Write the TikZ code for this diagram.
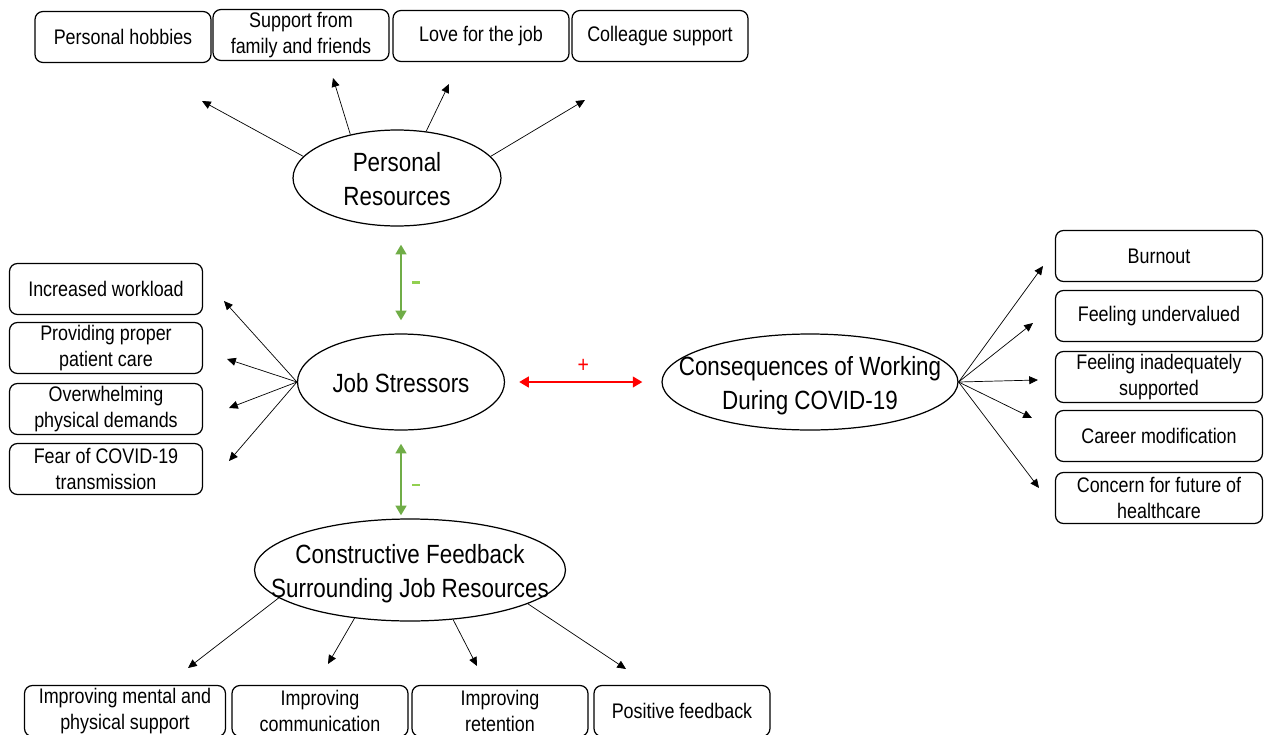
\documentclass[tikz,border=0pt]{standalone}
\usepackage{fontspec}
\setmainfont[FakeStretch=0.85]{Liberation Sans}
\usepackage{tikz}
\usetikzlibrary{arrows.meta,shapes.geometric,positioning}

\definecolor{posgreen}{HTML}{70AD47}
\definecolor{signgreen}{HTML}{92D050}
\newcommand{\ovaltext}[1]{\makebox[0pt]{\smash{\raisebox{-5.5pt}{\begin{tabular}{@{}c@{}}#1\end{tabular}}}}}

\begin{document}
\begin{tikzpicture}[x=0.02cm, y=-0.02cm,
		box/.style={draw, rounded corners=4.5pt, line width=0.7pt, align=center,
			inner ysep=1pt, minimum height=1.02cm,
			font=\fontsize{12}{14.7}\selectfont},
		oval/.style={draw, ellipse, line width=0.7pt, inner sep=0pt,
			font=\fontsize{15}{19.3}\selectfont},
		thinarrow/.style={-{Triangle[length=5pt,width=4.5pt]}, line width=0.4pt},
		greenarrow/.style={{Triangle[length=5.5pt,width=6pt]}-{Triangle[length=5.5pt,width=6pt]}, line width=1.7pt, posgreen},
		redarrow/.style={{Triangle[length=5.5pt,width=6pt]}-{Triangle[length=5.5pt,width=6pt]}, line width=1.7pt, red},
		minus/.style={inner sep=0pt, right=5.5pt, signgreen}]
			\useasboundingbox (0,0) rectangle (1265,734);
			
			% the four themes
			\node[oval, minimum width=4.16cm, minimum height=1.92cm] (resources) at (397, 178) {\ovaltext{Personal\\Resources}};
			\node[oval, minimum width=4.14cm, minimum height=1.92cm] (stressors) at (401, 382) {\ovaltext{Job Stressors}};
			\node[oval, minimum width=5.92cm, minimum height=1.92cm] (conseq) at (810, 382) {\ovaltext{Consequences of Working\\During COVID-19}};
			\node[oval, minimum width=6.22cm, minimum height=2.04cm] (feedback) at (410, 570) {\ovaltext{Constructive Feedback\\Surrounding Job Resources}};
			
			% personal resources
			\node[box, minimum width=3.52cm] (hobbies) at (123, 37) {Personal hobbies};
			\node[box, minimum width=3.52cm] (family) at (301, 35) {Support from\\family and friends};
			\node[box, minimum width=3.52cm] (love) at (481, 36) {Love for the job};
			\node[box, minimum width=3.52cm] (colleague) at (660, 36) {Colleague support};
			
			% job stressors
			\node[box, minimum width=3.86cm] (workload) at (106, 289) {Increased workload};
			\node[box, minimum width=3.86cm] (care) at (106, 348) {Providing proper\\patient care};
			\node[box, minimum width=3.86cm] (demands) at (106, 409) {Overwhelming\\physical demands};
			\node[box, minimum width=3.86cm] (fear) at (106, 469) {Fear of COVID-19\\transmission};
			
			% consequences
			\node[box, minimum width=4.14cm] (burnout) at (1159, 256) {Burnout};
			\node[box, minimum width=4.14cm] (undervalued) at (1159, 316) {Feeling undervalued};
			\node[box, minimum width=4.14cm] (inadequate) at (1159, 377) {Feeling inadequately\\supported};
			\node[box, minimum width=4.14cm] (career) at (1159, 436) {Career modification};
			\node[box, minimum width=4.14cm] (future) at (1159, 498) {Concern for future of\\healthcare};
			
			% job resources
			\node[box, minimum width=4.02cm] (support) at (125, 711) {Improving mental and\\physical support};
			\node[box, minimum width=3.52cm] (communication) at (320, 711) {Improving\\communication};
			\node[box, minimum width=3.52cm] (retention) at (500, 711) {Improving\\retention};
			\node[box, minimum width=3.52cm] (positive) at (682, 711) {Positive feedback};
			
			% loose arrow ends
			\coordinate (t1) at (202, 101);
			\coordinate (t2) at (333, 78);
			\coordinate (t3) at (449, 84);
			\coordinate (t4) at (585, 100);
			\coordinate (l1) at (224, 301);
			\coordinate (l2) at (227, 359);
			\coordinate (l3) at (229, 408);
			\coordinate (l4) at (229, 461);
			\coordinate (r1) at (1043, 266);
			\coordinate (r2) at (1033, 323);
			\coordinate (r3) at (1038, 380);
			\coordinate (r4) at (1032, 418);
			\coordinate (r5) at (1039, 488);
			\coordinate (b1) at (188, 668);
			\coordinate (b2) at (328, 664);
			\coordinate (b3) at (477, 666);
			\coordinate (b4) at (626, 669);
			
			\draw [thinarrow] (resources.167) to (t1);
			\draw [thinarrow] (resources.137) to (t2);
			\draw [thinarrow] (resources.58) to (t3);
			\draw [thinarrow] (resources.13) to (t4);
			
			\draw [thinarrow] (stressors.west) to (l1);
			\draw [thinarrow] (stressors.west) to (l2);
			\draw [thinarrow] (stressors.west) to (l3);
			\draw [thinarrow] (stressors.west) to (l4);
			
			\draw [thinarrow] (conseq.east) to (r1);
			\draw [thinarrow] (conseq.east) to (r2);
			\draw [thinarrow] (conseq.east) to (r3);
			\draw [thinarrow] (conseq.east) to (r4);
			\draw [thinarrow] (conseq.east) to (r5);
			
			\draw [thinarrow] (feedback.192) to (b1);
			\draw [thinarrow] (feedback.221) to (b2);
			\draw [thinarrow] (feedback.311) to (b3);
			\draw [thinarrow] (feedback.344) to (b4);
			
			% relations between themes
			\draw [greenarrow, shorten <=0.36cm, shorten >=0.26cm] (resources.south -| stressors.north) to
				node[pos=0.52, minus] (sign1) {\rule{4.5pt}{1.6pt}} (stressors.north);
			\draw [greenarrow, shorten <=0.26cm, shorten >=0.06cm] (stressors.south) to
				node[pos=0.62, minus] (sign2) {\rule{4.5pt}{1.6pt}} (stressors.south |- feedback.north);
			\draw [redarrow, shorten <=0.28cm, shorten >=0.38cm] (stressors.east) to
				node[midway, above=1pt, red, font=\fontsize{13}{13}\selectfont] (sign3) {+} (conseq.west);
		\end{tikzpicture}
\end{document}
